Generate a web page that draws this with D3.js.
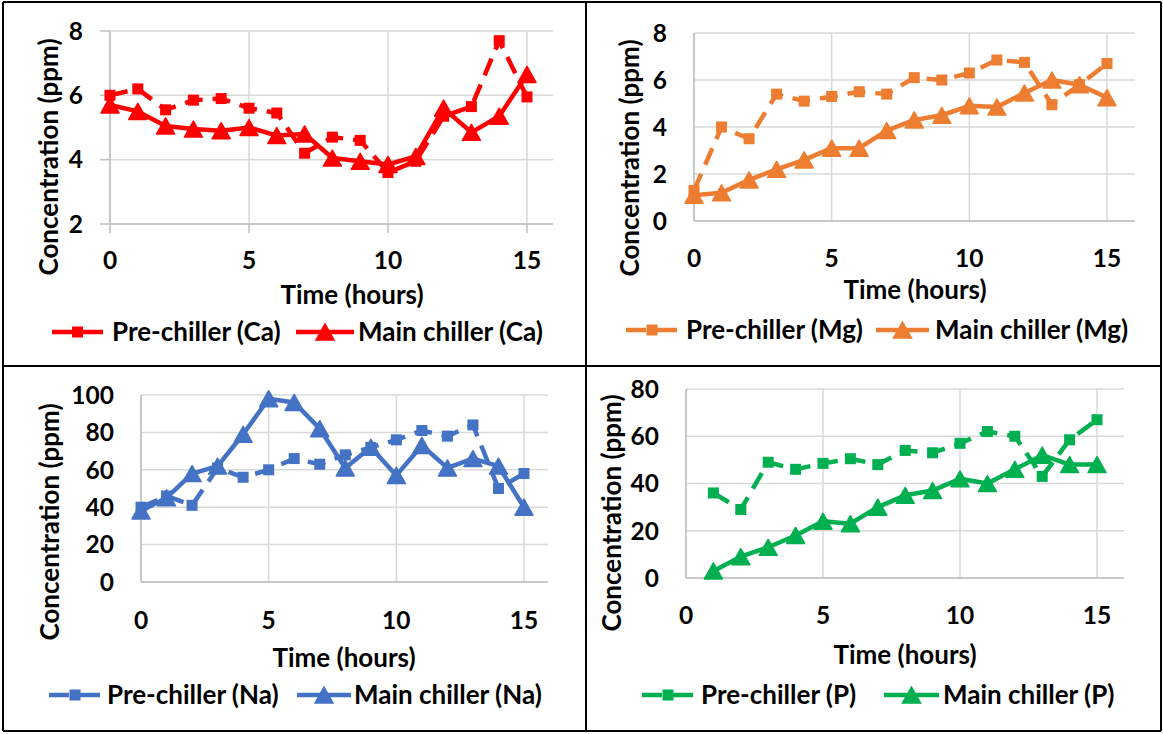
<!DOCTYPE html>
<html><head><meta charset="utf-8">
<script src="https://cdn.jsdelivr.net/npm/d3@7"></script>
<style>
body{margin:0;background:#fff}
svg{display:block}
text{font-family:Lato,'Open Sans',sans-serif;font-weight:700;fill:#000}
</style>
</head><body>
<svg id="c" width="1163" height="734"></svg>
<script>
// ---- data ----
const hours  = [0,1,2,3,4,5,6,7,8,9,10,11,12,13,14,15];
const hoursP = [1,2,3,4,5,6,7,8,9,10,11,12,13,14,15];
const xTicks = [0,5,10,15];

const caPre  = [6.0,6.2,5.55,5.85,5.9,5.6,5.45,4.2,4.7,4.6,3.6,3.95,5.35,5.65,7.7,5.95];
const caMain = [5.7,5.5,5.05,4.95,4.9,5.0,4.75,4.8,4.05,3.95,3.85,4.1,5.6,4.85,5.35,6.65];
const caTicks = [2,4,6,8];

const mgPre  = [1.3,4.0,3.5,5.4,5.1,5.3,5.5,5.4,6.1,6.0,6.3,6.85,6.75,4.95,5.8,6.7];
const mgMain = [1.1,1.2,1.75,2.2,2.6,3.1,3.1,3.85,4.3,4.5,4.9,4.85,5.45,6.0,5.8,5.25];
const mgTicks = [0,2,4,6,8];

const naPre  = [40,46,41,61,56,60,66,63,68,72,76,81,78,84,50,58];
const naMain = [38,45,58,62,79,98,96,82,61,72,57,73,61,66,62,40];
const naTicks = [0,20,40,60,80,100];

const pPre  = [36,29,49,46,48.5,50.5,48,54,53,57,62,60,43,58.5,67];
const pMain = [3,9,13,18,24,23,30,35,37,42,40,46,52,48,48];
const pTicks = [0,20,40,60,80];

const labelsCa = ["Pre-chiller (Ca)","Main chiller (Ca)"];
const labelsMg = ["Pre-chiller (Mg)","Main chiller (Mg)"];
const labelsNa = ["Pre-chiller (Na)","Main chiller (Na)"];
const labelsP  = ["Pre-chiller (P)","Main chiller (P)"];

// ---- layout ----
const panels = [
  {xs:hours, pre:caPre, main:caMain, ticks:caTicks, labels:labelsCa, color:"#FF0000",
   px0:110, px15:527, right:553, top:31, bot:224, axisTicks:true,
   xLabY:260, xTitle:[352,295], yTitle:[49,157], legY:332, leg:[52,103,112, 296,354,358]},
  {xs:hours, pre:mgPre, main:mgMain, ticks:mgTicks, labels:labelsMg, color:"#ED7D31",
   px0:694, px15:1107, right:1135, top:33, bot:221, axisTicks:false,
   xLabY:258, xTitle:[915,290], yTitle:[630,158], legY:330, leg:[626,678,686, 876,929,935]},
  {xs:hours, pre:naPre, main:naMain, ticks:naTicks, labels:labelsNa, color:"#4472C4",
   px0:141, px15:524, right:548, top:395, bot:582, axisTicks:false,
   xLabY:620, xTitle:[344,658], yTitle:[50,522], legY:695, leg:[49,101,107, 297,351,354]},
  {xs:hoursP, pre:pPre, main:pMain, ticks:pTicks, labels:labelsP, color:"#00B050",
   px0:686, px15:1097, right:1124, top:389, bot:578, axisTicks:false,
   xLabY:615, xTitle:[905,655], yTitle:[612,513], legY:695, leg:[642,694,701, 884,939,943]}
];

const svg = d3.select("#c");
const gridColor = "#D9D9D9";
const FS = 26, TFS = 24.5;

function triPath(w,h){ return `M0,${-h/2}L${w/2},${h/2}L${-w/2},${h/2}Z`; }
const TRI = triPath(18,16);

panels.forEach(p => {
  const g = svg.append("g");
  const x = d3.scaleLinear().domain([0,15]).range([p.px0,p.px15]);
  const y = d3.scaleLinear().domain([d3.min(p.ticks), d3.max(p.ticks)]).range([p.bot,p.top]);

  // gridlines
  g.selectAll(".hg").data(p.ticks).join("line")
    .attr("x1",p.px0).attr("x2",p.right)
    .attr("y1",d=>y(d)).attr("y2",d=>y(d))
    .attr("stroke",gridColor).attr("stroke-width",1.5);
  g.selectAll(".vg").data(xTicks).join("line")
    .attr("x1",d=>x(d)).attr("x2",d=>x(d))
    .attr("y1",p.top).attr("y2",p.bot)
    .attr("stroke",gridColor).attr("stroke-width",1.5);
  // axis lines
  g.append("line").attr("x1",p.px0).attr("x2",p.px0).attr("y1",p.top).attr("y2",p.bot)
    .attr("stroke","#BFBFBF").attr("stroke-width",1.5);
  g.append("line").attr("x1",p.px0).attr("x2",p.right).attr("y1",p.bot).attr("y2",p.bot)
    .attr("stroke","#BFBFBF").attr("stroke-width",1.5);
  if (p.axisTicks){
    g.selectAll(".yt").data(p.ticks).join("line")
      .attr("x1",p.px0-10).attr("x2",p.px0).attr("y1",d=>y(d)).attr("y2",d=>y(d))
      .attr("stroke","#BFBFBF").attr("stroke-width",1.5);
    g.selectAll(".xt").data(xTicks).join("line")
      .attr("x1",d=>x(d)).attr("x2",d=>x(d)).attr("y1",p.bot).attr("y2",p.bot+9)
      .attr("stroke","#BFBFBF").attr("stroke-width",1.5);
  }
  // tick labels
  g.selectAll(".yl").data(p.ticks).join("text")
    .attr("x",p.px0-27).attr("y",d=>y(d)).attr("dy","0.36em")
    .attr("text-anchor","end").attr("font-size",TFS).text(d=>d);
  g.selectAll(".xl").data(xTicks).join("text")
    .attr("x",d=>x(d)).attr("y",p.xLabY).attr("dy","0.36em")
    .attr("text-anchor","middle").attr("font-size",TFS).text(d=>d);
  // titles
  g.append("text").attr("x",p.xTitle[0]).attr("y",p.xTitle[1]).attr("dy","0.36em")
    .attr("text-anchor","middle").attr("font-size",FS).text("Time (hours)");
  g.append("text").attr("transform",`translate(${p.yTitle[0]},${p.yTitle[1]}) rotate(-90)`)
    .attr("dy","0.36em").attr("text-anchor","middle").attr("font-size",FS)
    .text("Concentration (ppm)");

  // series
  const line = d3.line().x((d,i)=>x(p.xs[i])).y(d=>y(d));
  g.append("path").datum(p.pre).attr("d",line).attr("fill","none")
    .attr("stroke",p.color).attr("stroke-width",4.5).attr("stroke-dasharray","18 10")
    .attr("stroke-linejoin","round");
  g.selectAll(".sq").data(p.pre).join("rect")
    .attr("x",(d,i)=>x(p.xs[i])-5.5).attr("y",d=>y(d)-5.5)
    .attr("width",11).attr("height",11).attr("fill",p.color);
  g.append("path").datum(p.main).attr("d",line).attr("fill","none")
    .attr("stroke",p.color).attr("stroke-width",4.5).attr("stroke-linejoin","round");
  g.selectAll(".tr").data(p.main).join("path")
    .attr("d",TRI).attr("transform",(d,i)=>`translate(${x(p.xs[i])},${y(d)})`)
    .attr("fill",p.color).attr("stroke",p.color).attr("stroke-width",1.5).attr("stroke-linejoin","round");

  // legend
  const L = p.leg, ly = p.legY;
  g.append("line").attr("x1",L[0]).attr("x2",L[1]).attr("y1",ly).attr("y2",ly)
    .attr("stroke",p.color).attr("stroke-width",4.5).attr("stroke-dasharray","20 11");
  g.append("rect").attr("x",(L[0]+L[1])/2-5.5).attr("y",ly-5.5).attr("width",11).attr("height",11).attr("fill",p.color);
  g.append("text").attr("x",L[2]).attr("y",ly).attr("dy","0.36em").attr("font-size",FS).text(p.labels[0]);
  g.append("line").attr("x1",L[3]).attr("x2",L[4]).attr("y1",ly).attr("y2",ly)
    .attr("stroke",p.color).attr("stroke-width",4.5);
  g.append("path").attr("d",TRI).attr("transform",`translate(${(L[3]+L[4])/2},${ly})`)
    .attr("fill",p.color).attr("stroke",p.color).attr("stroke-width",1.5);
  g.append("text").attr("x",L[5]).attr("y",ly).attr("dy","0.36em").attr("font-size",FS).text(p.labels[1]);
});

// frame
const frame = [[3,2,1161,2],[3,731,1161,731],[3,2,3,731],[1161,2,1161,731],[586,2,586,731],[3,366,1161,366]];
svg.selectAll(".fr").data(frame).join("line")
  .attr("x1",d=>d[0]).attr("y1",d=>d[1]).attr("x2",d=>d[2]).attr("y2",d=>d[3])
  .attr("stroke","#000").attr("stroke-width",2);
</script>
</body></html>
